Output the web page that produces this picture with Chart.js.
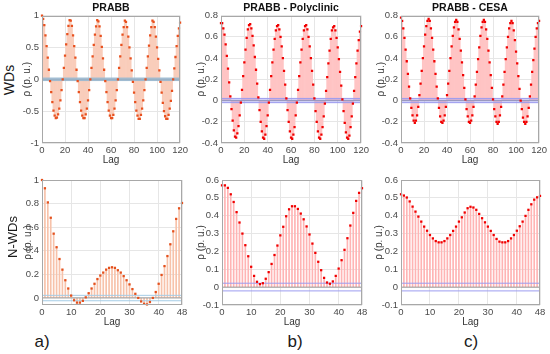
<!DOCTYPE html>
<html>
<head>
<meta charset="utf-8">
<script src="https://cdn.jsdelivr.net/npm/chart.js@4.4.1/dist/chart.umd.min.js"></script>
<style>
body { margin:0; background:#fff; width:550px; height:354px; position:relative; overflow:hidden; font-family:"Liberation Sans", Arial, sans-serif; }
canvas { position:absolute; }
.side { position:absolute; transform:translate(-50%,-50%) rotate(-90deg); color:#1a1a1a; white-space:nowrap; }
.tag { position:absolute; transform:translate(-50%,-50%); font-size:17px; color:#1a1a1a; }
</style>
</head>
<body>
<canvas id="c1" width="169" height="170" style="left:21px;top:0px"></canvas>
<canvas id="c2" width="176" height="170" style="left:195px;top:0px"></canvas>
<canvas id="c3" width="174" height="170" style="left:375px;top:0px"></canvas>
<canvas id="c4" width="169" height="167" style="left:22px;top:165px"></canvas>
<canvas id="c5" width="176" height="167" style="left:195px;top:165px"></canvas>
<canvas id="c6" width="176" height="167" style="left:373px;top:165px"></canvas>
<div class="side" style="left:9px;top:80px;font-size:14px">WDs</div>
<div class="side" style="left:12px;top:237px;font-size:13px">N-WDs</div>
<div class="tag" style="left:42px;top:342px">a)</div>
<div class="tag" style="left:295px;top:342px">b)</div>
<div class="tag" style="left:471px;top:342px">c)</div>
<script>
// tick labels
var lagTicksTop = [0, 20, 40, 60, 80, 100, 120];
var lagTicksBottom = [0, 10, 20, 30, 40, 48];
var yTicksWdsPrabb = [-1, -0.5, 0, 0.5, 1];
var yTicksWdsOther = [-0.4, -0.2, 0, 0.2, 0.4, 0.6, 0.8];
var yTicksNwdsPrabb = [0, 0.2, 0.4, 0.6, 0.8, 1];
var yTicksNwdsOther = [-0.1, 0, 0.1, 0.2, 0.3, 0.4, 0.5, 0.6];

// autocorrelation, working days, lags 0..120
var wdsPrabb = [1.00,0.95,0.85,0.69,0.52,0.34,0.15,-0.03,-0.20,-0.36,-0.49,-0.57,-0.61,-0.60,-0.55,-0.46,-0.33,-0.17,0.00,0.18,0.37,0.55,0.71,0.84,
  0.93,0.92,0.84,0.69,0.52,0.34,0.15,-0.03,-0.20,-0.36,-0.49,-0.57,-0.61,-0.61,-0.55,-0.46,-0.33,-0.17,0.00,0.18,0.36,0.54,0.70,0.83,
  0.93,0.91,0.83,0.68,0.51,0.33,0.15,-0.03,-0.20,-0.36,-0.49,-0.57,-0.61,-0.61,-0.56,-0.46,-0.33,-0.17,0.00,0.18,0.36,0.54,0.70,0.82,
  0.92,0.90,0.82,0.67,0.50,0.33,0.14,-0.04,-0.21,-0.36,-0.49,-0.57,-0.62,-0.62,-0.56,-0.46,-0.33,-0.17,0.00,0.18,0.36,0.53,0.69,0.82,
  0.92,0.90,0.82,0.67,0.50,0.32,0.14,-0.04,-0.21,-0.37,-0.50,-0.58,-0.62,-0.62,-0.56,-0.46,-0.34,-0.18,0.00,0.17,0.35,0.52,0.68,0.80,
  0.89];
var wdsPoly = [0.73,0.73,0.68,0.62,0.53,0.42,0.30,0.17,0.04,-0.08,-0.19,-0.28,-0.34,-0.35,-0.31,-0.24,-0.14,-0.02,0.10,0.23,0.36,0.48,0.59,0.67,
  0.71,0.72,0.68,0.61,0.52,0.41,0.29,0.16,0.03,-0.09,-0.20,-0.29,-0.35,-0.36,-0.32,-0.24,-0.14,-0.02,0.10,0.23,0.36,0.48,0.58,0.66,
  0.70,0.71,0.67,0.60,0.51,0.40,0.28,0.15,0.02,-0.09,-0.20,-0.29,-0.35,-0.36,-0.32,-0.25,-0.14,-0.02,0.10,0.23,0.36,0.48,0.58,0.66,
  0.70,0.71,0.67,0.60,0.51,0.40,0.28,0.15,0.02,-0.10,-0.20,-0.29,-0.35,-0.36,-0.32,-0.25,-0.15,-0.03,0.09,0.22,0.35,0.47,0.58,0.66,
  0.69,0.70,0.66,0.59,0.50,0.39,0.27,0.14,0.01,-0.10,-0.21,-0.30,-0.35,-0.36,-0.33,-0.25,-0.15,-0.03,0.09,0.22,0.35,0.47,0.57,0.65,
  0.70];
var wdsCesa = [0.78,0.75,0.68,0.59,0.48,0.37,0.25,0.13,0.02,-0.07,-0.14,-0.19,-0.21,-0.19,-0.14,-0.06,0.05,0.16,0.28,0.40,0.51,0.62,0.70,0.75,
  0.77,0.75,0.68,0.59,0.48,0.37,0.25,0.13,0.02,-0.07,-0.15,-0.20,-0.21,-0.19,-0.14,-0.06,0.05,0.16,0.28,0.40,0.51,0.61,0.69,0.74,
  0.76,0.74,0.67,0.58,0.47,0.36,0.24,0.12,0.01,-0.08,-0.15,-0.20,-0.21,-0.19,-0.14,-0.06,0.04,0.15,0.27,0.39,0.50,0.61,0.69,0.74,
  0.76,0.74,0.67,0.58,0.47,0.36,0.24,0.12,0.01,-0.08,-0.15,-0.20,-0.22,-0.20,-0.14,-0.06,0.04,0.15,0.27,0.39,0.50,0.60,0.68,0.73,
  0.75,0.73,0.66,0.57,0.46,0.35,0.23,0.11,0.00,-0.08,-0.16,-0.20,-0.22,-0.20,-0.15,-0.07,0.04,0.15,0.27,0.38,0.49,0.60,0.68,0.73,
  0.75];

// autocorrelation, non-working days, lags 0..48
var nwdsPrabb = [1.00,0.93,0.81,0.68,0.545,0.43,0.33,0.24,0.15,0.08,0.02,-0.02,-0.04,-0.04,-0.025,0.005,0.04,0.08,0.12,0.16,0.19,0.215,0.24,0.255,0.26,
  0.255,0.235,0.215,0.185,0.15,0.115,0.075,0.035,0.0,-0.03,-0.05,-0.055,-0.035,0.0,0.05,0.12,0.195,0.27,0.355,0.455,0.565,0.67,0.76,0.805];
var nwdsPoly = [0.57,0.57,0.556,0.52,0.477,0.42,0.362,0.30,0.235,0.173,0.114,0.063,0.03,0.017,0.022,0.047,0.084,0.13,0.18,0.233,0.29,0.338,0.397,0.436,0.453,
  0.453,0.438,0.412,0.38,0.34,0.295,0.244,0.192,0.142,0.095,0.052,0.026,0.019,0.032,0.063,0.104,0.151,0.209,0.274,0.345,0.416,0.483,0.528,0.554];
var nwdsCesa = [0.52,0.513,0.502,0.48,0.451,0.423,0.395,0.367,0.339,0.316,0.292,0.273,0.258,0.251,0.251,0.258,0.273,0.292,0.315,0.339,0.367,0.391,0.418,0.442,0.45,
  0.446,0.433,0.41,0.386,0.363,0.339,0.315,0.292,0.27,0.255,0.251,0.251,0.258,0.273,0.292,0.316,0.341,0.367,0.399,0.433,0.464,0.49,0.503,0.511];

// confidence bounds [upper, lower]
var boundsWdsPrabb = [0.02, -0.02];
var boundsWdsOther = [0.02, -0.02];
var boundsNwdsPrabb = [0.022, -0.024];
var boundsNwdsOther = [0.022, -0.021];

var FONT = "'Liberation Sans', Arial, sans-serif";

// draws the axes box like matlab's "box on"
var boxPlugin = {
  id: 'box',
  afterDraw: function(chart) {
    var a = chart.chartArea, ctx = chart.ctx;
    ctx.save();
    ctx.strokeStyle = '#a8a8a8';
    ctx.lineWidth = 1;
    ctx.strokeRect(Math.round(a.left) + 0.5, Math.round(a.top) + 0.5,
      Math.round(a.right - a.left) - 1, Math.round(a.bottom - a.top) - 1);
    ctx.restore();
  }
};

function toXY(arr) {
  return arr.map(function(v, i) { return { x: i, y: v }; });
}

function makePanel(id, o) {
  var xMax = o.values.length - 1;
  var opts = {
    responsive: false,
    animation: false,
    events: [],
    layout: { padding: { top: o.title ? 0 : 15, right: 9, bottom: 4, left: 0 } },
    plugins: {
      legend: { display: false },
      tooltip: { enabled: false },
      title: {
        display: !!o.title,
        text: o.title || '',
        fullSize: false,
        color: '#111',
        font: { family: FONT, size: 10.5, weight: 'bold' },
        padding: { top: 2, bottom: 1 }
      }
    },
    scales: {
      x: {
        type: 'linear',
        min: 0,
        max: xMax,
        offset: false,
        afterBuildTicks: function(s) { s.ticks = o.xTicks.map(function(v) { return { value: v }; }); },
        afterFit: function(s) { s.height = 23; },
        ticks: { color: '#4a4a4a', font: { family: FONT, size: 9.5 }, padding: 2, maxRotation: 0,
          callback: function(v) { return String(v); } },
        grid: { color: '#e6e6e6', drawTicks: false, offset: false },
        border: { display: false },
        title: { display: true, text: 'Lag', color: '#333', font: { family: FONT, size: 10 }, padding: 0 }
      },
      y: {
        min: o.yMin,
        max: o.yMax,
        afterBuildTicks: function(s) { s.ticks = o.yTicks.map(function(v) { return { value: v }; }); },
        afterFit: function(s) { s.width = o.yWidth; },
        ticks: { color: '#4a4a4a', font: { family: FONT, size: 9.5 }, padding: 3,
          callback: function(v) { return String(v); } },
        grid: { color: '#e6e6e6', drawTicks: false },
        border: { display: false },
        title: { display: true, text: 'ρ (p. u.)', color: '#333', font: { family: FONT, size: 10 }, padding: 0 }
      }
    }
  };

  new Chart(document.getElementById(id), {
    type: 'bar',
    data: {
      datasets: [
        {
          type: 'line',
          data: toXY(o.values),
          showLine: false,
          pointStyle: 'rect',
          pointRadius: 1.6,
          pointBorderWidth: 0,
          pointBackgroundColor: o.markColor,
          clip: 5,
          order: 0
        },
        {
          type: 'line',
          data: [{ x: 0, y: o.bounds[0] }, { x: xMax, y: o.bounds[0] }],
          borderColor: o.boundColor,
          borderWidth: 1,
          pointRadius: 0,
          fill: o.bandColor ? '+1' : false,
          backgroundColor: o.bandColor || 'transparent',
          order: 1
        },
        {
          type: 'line',
          data: [{ x: 0, y: o.bounds[1] }, { x: xMax, y: o.bounds[1] }],
          borderColor: o.boundColor,
          borderWidth: 1,
          pointRadius: 0,
          fill: false,
          order: 1
        },
        {
          type: 'line',
          data: [{ x: 0, y: 0 }, { x: xMax, y: 0 }],
          borderColor: '#9a9a9a',
          borderWidth: 1,
          pointRadius: 0,
          fill: false,
          order: 1
        },
        {
          type: 'bar',
          data: toXY(o.values),
          backgroundColor: o.stemColor,
          borderWidth: 0,
          barThickness: o.stemWidth,
          order: 3
        }
      ]
    },
    options: opts,
    plugins: [boxPlugin]
  });
}

makePanel('c1', { title: 'PRABB', values: wdsPrabb, xTicks: lagTicksTop, yTicks: yTicksWdsPrabb, yMin: -1, yMax: 1,
  yWidth: 21, stemWidth: 1.15, stemColor: '#f9cdbb', markColor: '#e8501e', bounds: boundsWdsPrabb, boundColor: '#9fbcd2', bandColor: 'rgba(150,180,205,0.8)' });
makePanel('c2', { title: 'PRABB - Polyclinic', values: wdsPoly, xTicks: lagTicksTop, yTicks: yTicksWdsOther, yMin: -0.4, yMax: 0.8,
  yWidth: 26, stemWidth: 1.15, stemColor: '#ffc4c4', markColor: '#f00000', bounds: boundsWdsOther, boundColor: '#9c9cf0', bandColor: 'rgba(150,150,235,0.45)' });
makePanel('c3', { title: 'PRABB - CESA', values: wdsCesa, xTicks: lagTicksTop, yTicks: yTicksWdsOther, yMin: -0.4, yMax: 0.8,
  yWidth: 26, stemWidth: 1.15, stemColor: '#ffc4c4', markColor: '#f00000', bounds: boundsWdsOther, boundColor: '#9c9cf0', bandColor: 'rgba(150,150,235,0.45)' });
makePanel('c4', { values: nwdsPrabb, xTicks: lagTicksBottom, yTicks: yTicksNwdsPrabb, yMin: -0.06, yMax: 1,
  yWidth: 20, stemWidth: 1, stemColor: '#f7c2aa', markColor: '#e4501c', bounds: boundsNwdsPrabb, boundColor: '#a4cce6' });
makePanel('c5', { values: nwdsPoly, xTicks: lagTicksBottom, yTicks: yTicksNwdsOther, yMin: -0.1, yMax: 0.6,
  yWidth: 27, stemWidth: 1, stemColor: '#ffb4b4', markColor: '#f00000', bounds: boundsNwdsOther, boundColor: '#9c9cf0' });
makePanel('c6', { values: nwdsCesa, xTicks: lagTicksBottom, yTicks: yTicksNwdsOther, yMin: -0.1, yMax: 0.6,
  yWidth: 28, stemWidth: 1, stemColor: '#ffb4b4', markColor: '#f00000', bounds: boundsNwdsOther, boundColor: '#9c9cf0' });
</script>
</body>
</html>
